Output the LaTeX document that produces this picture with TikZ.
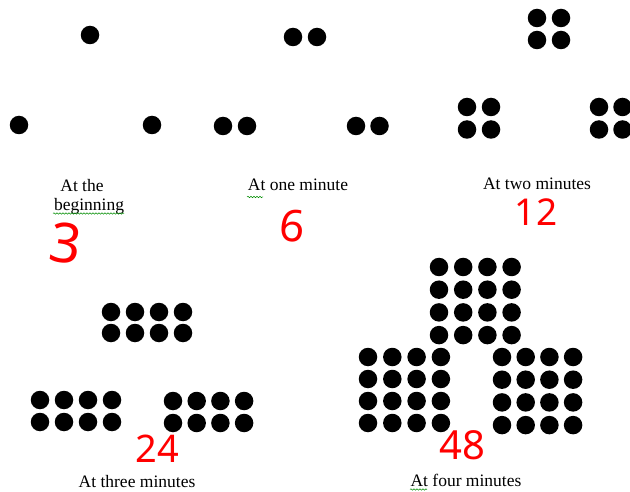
\documentclass[tikz,border=0pt]{standalone}
\usepackage{fontspec}
\setmainfont{Liberation Serif}
\newfontfamily\handfont{Noto Sans}
\usetikzlibrary{decorations.pathmorphing}
\begin{document}
\begin{tikzpicture}[x=1pt,y=-1pt,
  dot/.style={circle,fill=black,inner sep=0pt,minimum size=18.5pt},
  lbl/.style={font=\fontsize{17.5}{20}\selectfont,inner sep=0pt,anchor=base},
  handnum/.style={text=red,inner sep=0pt,font=\handfont\fontsize{#1}{#1}\selectfont},
  squig/.style={draw=green!55!black,decorate,decoration={snake,amplitude=0.7pt,segment length=3pt},line width=0.5pt}]
\useasboundingbox (0,0) rectangle (630,492);
\newcommand\dotgrid[7]{%
  \foreach \i in {1,...,#4}{\foreach \j in {1,...,#5}{%
    \node[dot] (#1-\i-\j) at ({#2+(\i-1)*#6},{#3+(\j-1)*#7}) {};}}}
% beginning
\dotgrid{a}{90}{35}{1}{1}{24}{22}
\dotgrid{b}{19}{125}{1}{1}{24}{22}
\dotgrid{c}{152}{125}{1}{1}{24}{22}
% one minute
\dotgrid{d}{293}{37}{2}{1}{24}{22}
\dotgrid{e}{223}{126}{2}{1}{24}{22}
\dotgrid{f}{356}{126}{2}{1}{23.5}{22}
% two minutes
\dotgrid{g}{537}{18}{2}{2}{24}{22}
\dotgrid{h}{467}{107}{2}{2}{24}{22.5}
\dotgrid{k}{599}{107}{2}{2}{23.5}{22.5}
% three minutes
\dotgrid{m}{111}{312}{4}{2}{24}{21}
\dotgrid{n}{40}{400}{4}{2}{24}{22}
\dotgrid{p}{173}{401}{4}{2}{23.7}{22}
% four minutes
\dotgrid{q}{439}{267}{4}{4}{24.2}{22.7}
\dotgrid{r}{368}{357}{4}{4}{24.3}{22}
\dotgrid{s}{502}{357}{4}{4}{23.7}{22.7}
% labels
\node[lbl] (l1a) at (82,191.5) {At the};
\node[lbl] (l1b) at (89,210.5) {beginning};
\node[lbl] (l2) at (298,190.7) {At one minute};
\node[lbl] (l3) at (537,190) {At two minutes};
\node[lbl] (l4) at (137,487) {At three minutes};
\node[lbl] (l5) at (466,486) {At four minutes};
% spell-check underlines
\coordinate (u1a) at (53,213.5); \coordinate (u1b) at (124,213.5);
\coordinate (u2a) at (247,197); \coordinate (u2b) at (263,197);
\coordinate (u3a) at (410,489.5); \coordinate (u3b) at (427,489.5);
\draw[squig] (u1a) -- (u1b);
\draw[squig] (u2a) -- (u2b);
\draw[squig] (u3a) -- (u3b);
% handwritten totals
\node[handnum=55,rotate=-8] (h1) at (66,243) {3};
\node[handnum=44,rotate=-5] (h2) at (292,226) {6};
\node[handnum=37] (h3) at (536,212) {12};
\node[handnum=38] (h4) at (157,449) {24};
\node[handnum=40] (h5) at (462,445) {48};
\end{tikzpicture}
\end{document}
